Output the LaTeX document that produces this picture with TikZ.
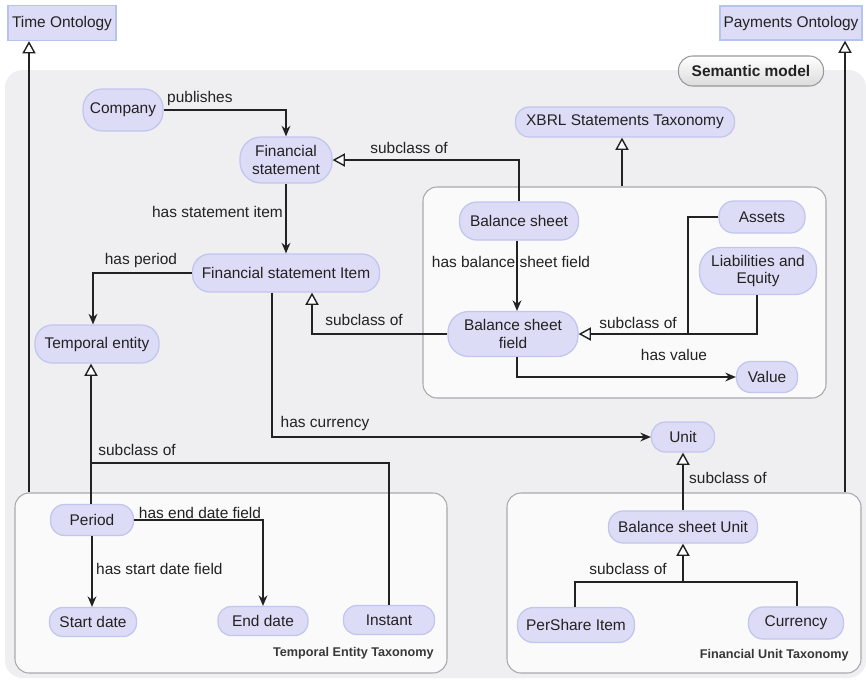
\documentclass[tikz,border=0pt]{standalone}
\usepackage{fontspec}
\setmainfont{Liberation Sans}
\usetikzlibrary{arrows.meta,shadings}
\newdimen\px \px=0.02cm
\definecolor{nodefill}{HTML}{DCDCF6}
\definecolor{nodeline}{HTML}{C2C5EE}
\definecolor{ontline}{HTML}{B6C3EC}
\definecolor{areafill}{HTML}{EFEFF1}
\definecolor{boxline}{HTML}{A9A9AC}
\definecolor{ink}{HTML}{222222}
\tikzset{
  pill/.style={draw=nodeline, fill=nodefill, line width=0.7pt,
    inner sep=0pt, align=center, text=ink, font=\fontsize{8.8}{10.2}\selectfont},
  onto/.style={draw=ontline, fill=nodefill, line width=0.7pt, inner sep=0pt,
    text=ink, font=\fontsize{8.8}{10.2}\selectfont},
  group/.style={draw=boxline, fill=white!98!black, line width=0.6pt, rounded corners=8pt},
  lbl/.style={inner sep=0.5pt, text=ink, font=\fontsize{8.8}{10.2}\selectfont},
  grouplbl/.style={inner sep=0pt, text=ink!90, font=\fontsize{7.2}{8.5}\selectfont\bfseries},
  rel/.style={draw=ink, line width=0.8pt, -{Stealth[length=6pt,width=5pt]}},
  sub/.style={draw=ink, line width=0.8pt, -{Triangle[open,length=7pt,width=7.5pt,fill=white]}},
  link/.style={draw=ink, line width=0.8pt},
}
% rounded box: name, x, y, width, height (pixels), text; ends almost fully round
\newcommand\pillnode[6]{\node[pill, rounded corners=0.46*#5*0.5669pt,
  minimum width=#4\px, minimum height=#5\px] (#1) at (#2,#3) {#6};}
\begin{document}
\begin{tikzpicture}[x=0.02cm, y=-0.02cm]
\useasboundingbox[fill=white] (0,0) rectangle (866,681);

% semantic model area and group boxes
\fill[areafill, rounded corners=10pt] (5,70) rectangle (866,678);
\node[group, minimum width=403\px, minimum height=211\px] (bsbox) at (624.5,292.5) {};
\node[group, minimum width=432\px, minimum height=180\px] (tetbox) at (231,583) {};
\node[group, minimum width=354\px, minimum height=180\px] (futbox) at (684,583) {};

\node[grouplbl, anchor=east] (tetlbl) at (434,653) {Temporal Entity Taxonomy};
\node[grouplbl, anchor=east] (futlbl) at (849,655) {Financial Unit Taxonomy};

\node[draw=black!40, line width=0.6pt, rounded corners=8pt, top color=white, bottom color=black!14,
  minimum width=145\px, minimum height=30\px, inner sep=0pt, text=ink,
  font=\fontsize{8.8}{10.2}\selectfont\bfseries] (semlbl) at (751,71) {Semantic model};

% ontologies
\node[onto, minimum width=108\px, minimum height=35\px] (timeont) at (62,23) {Time Ontology};
\node[onto, minimum width=142\px, minimum height=34\px] (payont) at (791,23) {Payments Ontology};

% classes
\pillnode{company}{123}{110}{80}{42}{Company}
\pillnode{fs}{286}{160}{92}{46}{Financial\\statement}
\pillnode{fsi}{286}{273}{187}{38}{Financial statement Item}
\pillnode{te}{97}{344}{124}{38}{Temporal entity}
\pillnode{xbrl}{625}{122}{219}{30}{XBRL Statements Taxonomy}
\pillnode{bs}{519}{221}{119}{38}{Balance sheet}
\pillnode{bsf}{513}{334}{130}{45}{Balance sheet\\field}
\pillnode{assets}{762}{217}{86}{32}{Assets}
\pillnode{liab}{758}{271}{117}{47}{Liabilities and\\Equity}
\pillnode{value}{767}{377}{61}{31}{Value}
\pillnode{unit}{683}{437}{63}{30}{Unit}
\pillnode{bsu}{683}{527}{149}{32}{Balance sheet Unit}
\pillnode{pershare}{576}{625}{117}{35}{PerShare Item}
\pillnode{currency}{796}{623}{95}{32}{Currency}
\pillnode{period}{92}{520}{83}{31}{Period}
\pillnode{start}{93}{622}{87}{29}{Start date}
\pillnode{end}{263}{621}{90}{29}{End date}
\pillnode{instant}{389}{620}{91}{29}{Instant}

% imports of outer ontologies
\draw[sub] (29,0 |- tetbox.north) -- (29,0 |- timeont.south);
\draw[sub] (845,0 |- futbox.north) -- (845,0 |- payont.south);
\draw[sub] (622,0 |- bsbox.north) -- (622,0 |- xbrl.south);

% statements
\draw[rel] (company.east) -| (fs.north);
\node[lbl, anchor=south west] (l1) at (166,107) {publishes};
\draw[sub] (bs.north) |- (fs.east);
\node[lbl] (l2) at (409,148) {subclass of};
\draw[rel] (fs.south) -- (fsi.north);
\node[lbl, anchor=east] (l3) at (284,212) {has statement item};
\draw[rel] (fsi.west) -| (93,0 |- te.north);
\node[lbl] (l4) at (141,260) {has period};
\draw[sub] (bsf.west) -| (312,0 |- fsi.south);
\node[lbl] (l5) at (364,320) {subclass of};
\draw[rel] (272,0 |- fsi.south) |- (unit.west);
\node[lbl] (l6) at (325,423) {has currency};

% balance sheet taxonomy
\draw[rel] (517,0 |- bs.south) -- (517,0 |- bsf.north);
\node[lbl] (l7) at (511,262) {has balance sheet field};
\draw[link] (assets.west) -| (688,334);
\draw[sub] (757,0 |- liab.south) |- (bsf.east);
\node[lbl] (l8) at (638,323) {subclass of};
\draw[rel] (517,0 |- bsf.south) |- (value.west);
\node[lbl] (l9) at (674,355) {has value};

% temporal entity taxonomy
\draw[sub] (91,0 |- period.north) -- (91,0 |- te.south);
\draw[link] (91,463) -| (instant.north);
\node[lbl] (l10) at (137,450) {subclass of};
\draw[rel] (period.east) -| (end.north);
\node[lbl] (l11) at (200,513) {has end date field};
\draw[rel] (period.south) -- (period.south |- start.north);
\node[lbl, anchor=west] (l12) at (95,569) {has start date field};

% financial unit taxonomy
\draw[sub] (bsu.north) -- (unit.south);
\node[lbl, anchor=west] (l13) at (688,478) {subclass of};
\draw[link] (575,0 |- pershare.north) |- (797,582) -- (797,0 |- currency.north);
\draw[sub] (683,582) -- (bsu.south);
\node[lbl] (l14) at (628,569) {subclass of};
\end{tikzpicture}
\end{document}
